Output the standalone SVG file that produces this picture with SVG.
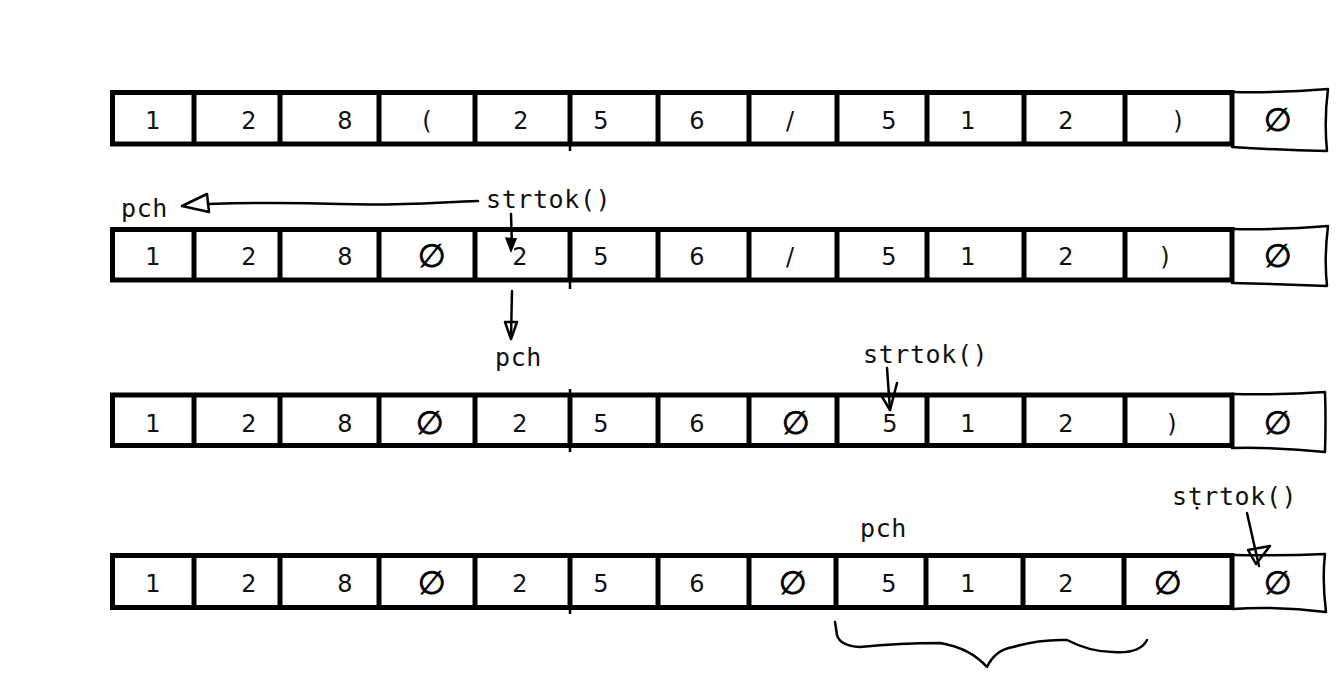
<svg xmlns="http://www.w3.org/2000/svg" width="1342" height="684" viewBox="0 0 1342 684">
<style>
.frame{fill:none;stroke:#000;stroke-width:5}
.div{stroke:#000;stroke-width:5}
.tick{stroke:#000;stroke-width:2.5}
.hand{fill:none;stroke:#000;stroke-width:2.5;stroke-linejoin:round;stroke-linecap:round}
.d{font-family:"DejaVu Sans",sans-serif;font-size:24px;fill:#111;text-anchor:middle}
.e{font-family:"DejaVu Sans",sans-serif;font-size:32px;fill:#000;stroke:#000;stroke-width:0.8;text-anchor:middle}
.m{font-family:"DejaVu Sans Mono",monospace;font-size:25px;fill:#111;letter-spacing:0.6px}
.ln{fill:none;stroke:#000;stroke-width:2.5;stroke-linecap:round;stroke-linejoin:round}
</style>
<rect width="1342" height="684" fill="#fff"/>

<g id="row1">
<rect class="frame" x="112.5" y="92.5" width="1119.5" height="51.5"/>
<path class="div" d="M194,92.5V144M280,92.5V144M379,92.5V144M475,92.5V144M570,92.5V144M658,92.5V144M749,92.5V144M837,92.5V144M927,92.5V144M1024,92.5V144M1125,92.5V144"/>
<path class="tick" d="M570,144V151"/>
<path class="hand" d="M1232,92 Q1280,93 1328,89 Q1324,120 1327,151 Q1280,150 1232,147"/>
<text class="d" x="153" y="129">1</text><text class="d" x="249" y="129">2</text><text class="d" x="345" y="129">8</text><text class="d" x="427" y="129">(</text><text class="d" x="521" y="129">2</text><text class="d" x="601" y="129">5</text><text class="d" x="697" y="129">6</text><text class="d" x="790" y="129">/</text><text class="d" x="889" y="129">5</text><text class="d" x="968" y="129">1</text><text class="d" x="1066" y="129">2</text><text class="d" x="1178" y="129">)</text>
<text class="e" x="1278" y="131">∅</text>
</g>

<g id="row2">
<rect class="frame" x="112.5" y="229.5" width="1119.5" height="50.5"/>
<path class="div" d="M194,229.5V280M280,229.5V280M379,229.5V280M475,229.5V280M570,229.5V280M658,229.5V280M749,229.5V280M837,229.5V280M927,229.5V280M1024,229.5V280M1125,229.5V280"/>
<path class="tick" d="M570,280V289"/>
<path class="hand" d="M1232,229 Q1280,230 1328,226 Q1324,258 1327,286 Q1280,284 1232,283"/>
<text class="d" x="153" y="265">1</text><text class="d" x="249" y="265">2</text><text class="d" x="345" y="265">8</text>
<text class="e" x="432" y="267">∅</text>
<text class="d" x="520" y="265">2</text><text class="d" x="601" y="265">5</text><text class="d" x="697" y="265">6</text><text class="d" x="790" y="265">/</text><text class="d" x="889" y="265">5</text><text class="d" x="968" y="265">1</text><text class="d" x="1066" y="265">2</text><text class="d" x="1165" y="265">)</text>
<text class="e" x="1278" y="267">∅</text>
</g>

<g id="row3">
<rect class="frame" x="112.5" y="395" width="1119.5" height="50.5"/>
<path class="div" d="M194,395V445.5M280,395V445.5M379,395V445.5M475,395V445.5M570,395V445.5M658,395V445.5M749,395V445.5M837,395V445.5M927,395V445.5M1024,395V445.5M1125,395V445.5"/>
<path class="tick" d="M570,389V395M570,445.5V452"/>
<path class="hand" d="M1232,394 Q1280,395 1325,392 Q1326,420 1325,452 Q1280,447 1232,448"/>
<text class="d" x="153" y="432">1</text><text class="d" x="249" y="432">2</text><text class="d" x="345" y="432">8</text>
<text class="e" x="430" y="434">∅</text>
<text class="d" x="520" y="432">2</text><text class="d" x="601" y="432">5</text><text class="d" x="697" y="432">6</text>
<text class="e" x="796" y="434">∅</text>
<text class="d" x="890" y="432">5</text><text class="d" x="968" y="432">1</text><text class="d" x="1066" y="432">2</text><text class="d" x="1172" y="432">)</text>
<text class="e" x="1278" y="434">∅</text>
</g>

<g id="row4">
<rect class="frame" x="112.5" y="555.5" width="1119.5" height="52"/>
<path class="div" d="M194,555.5V607.5M280,555.5V607.5M379,555.5V607.5M475,555.5V607.5M570,555.5V607.5M658,555.5V607.5M749,555.5V607.5M836,555.5V607.5M926,555.5V607.5M1023,555.5V607.5M1124,555.5V607.5"/>
<path class="tick" d="M570,607.5V614"/>
<path class="hand" d="M1232,555 Q1280,556 1325,554 Q1322,580 1326,612 Q1280,606 1232,609"/>
<text class="d" x="153" y="592">1</text><text class="d" x="249" y="592">2</text><text class="d" x="345" y="592">8</text>
<text class="e" x="432" y="594">∅</text>
<text class="d" x="520" y="592">2</text><text class="d" x="601" y="592">5</text><text class="d" x="697" y="592">6</text>
<text class="e" x="793" y="594">∅</text>
<text class="d" x="889" y="592">5</text><text class="d" x="968" y="592">1</text><text class="d" x="1066" y="592">2</text>
<text class="e" x="1168" y="594">∅</text>
<text class="e" x="1278" y="594">∅</text>
</g>

<g id="labels">
<text class="m" x="121" y="217">pch</text>
<text class="m" x="486" y="208">strtok()</text>
<text class="m" x="495" y="366">pch</text>
<text class="m" x="863" y="363">strtok()</text>
<text class="m" x="860" y="537">pch</text>
<text class="m" x="1172" y="505">strtok()</text>
<circle cx="1197" cy="508" r="1.5" fill="#000"/>
</g>

<g id="connectors">
<path class="ln" d="M478,201 C440,202 400,206 340,204 S240,203 208,204"/>
<path class="ln" d="M207,194 L182,206 L209,212 Z" stroke-width="3.5"/>
<path class="ln" d="M511,214 L512,247"/>
<path d="M506,238 L511,251 L516,239 Z" fill="#000" stroke="#000" stroke-width="1.5"/>
<path class="ln" d="M512,291 L511,337" stroke="#c3c3c3"/>
<path class="ln" d="M505,322 L511,339 L517,322 Z" stroke="#c3c3c3"/>
<path class="ln" d="M887,368 L890,410"/>
<path class="ln" d="M881,395 L890,410 L897,383"/>
<path class="ln" d="M1247,513 L1259,566"/>
<path class="ln" d="M1248,550 L1270,546 L1256,564 Z" stroke-width="3"/>
<path class="ln" d="M835,622 L837,635 Q840,646 860,647 Q900,643 940,643 Q970,648 987,667 Q995,650 1013,647 Q1040,639 1067,640 Q1090,652 1113,652 Q1140,654 1147,640"/>
</g>
</svg>
